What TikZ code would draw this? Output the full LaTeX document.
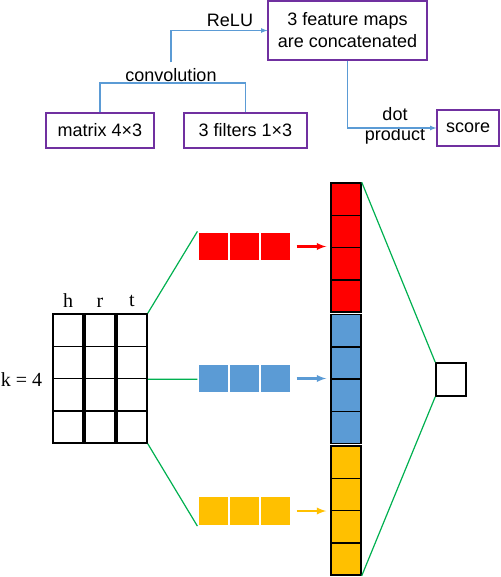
\documentclass[tikz,border=0pt]{standalone}
\usepackage{fontspec}
\setmainfont{Liberation Serif}
\setsansfont{Liberation Sans}
\usepackage{tikz}
\usetikzlibrary{
    positioning,
    calc,
    arrows
}
\definecolor{boxpurple}{HTML}{7030A0}
\definecolor{flowblue}{HTML}{5B9BD5}
\definecolor{mapred}{HTML}{FF0000}
\definecolor{mapblue}{HTML}{5B9BD5}
\definecolor{mapyellow}{HTML}{FFC000}
\definecolor{linkgreen}{HTML}{00B050}
\tikzset{
  stage/.style = {
      draw=boxpurple,
      line width=1.2pt,
      rectangle,
      font=\sffamily\fontsize{18}{22}\selectfont,
      align=center,
      inner sep=0pt
  },
  note/.style = {
      font=\sffamily\fontsize{18}{20}\selectfont,
      align=center,
      inner sep=1pt
  },
  letter/.style = {
      font=\rmfamily\fontsize{20}{20}\selectfont,
      inner sep=1pt
  },
  flow/.style = {
      draw=flowblue,
      line width=1.2pt
  },
  flow arrow/.style = {
    flow,
    -latex
  },
  cell/.style = {
      draw,
      line width=1.5pt,
      rectangle,
      minimum width=30,
      minimum height=32.25,
      inner sep=0pt
  },
  filter/.style = {
      draw=white,
      line width=1.2pt,
      rectangle,
      minimum width=31,
      minimum height=29,
      inner sep=0pt
  },
  map arrow/.style = {
      line width=2.2pt,
      -latex,
      shorten <=5pt,
      shorten >=4pt
  },
  link/.style = {
      draw=linkgreen,
      line width=1.2pt
  }
}
\begin{document}
\begin{tikzpicture}[x=1pt, y=-1pt]
    \useasboundingbox (0,0) rectangle (500,577);
    % Flow chart
    \node[stage, minimum width=159, minimum height=59] (cat) at (347.5,30.5) {3 feature maps\\are concatenated};
    \node[stage, minimum width=108, minimum height=35] (mat) at (100,130.5) {matrix 4×3};
    \node[stage, minimum width=123, minimum height=35] (filt) at (245.5,130.5) {3 filters 1×3};
    \node[stage, minimum width=62, minimum height=36] (score) at (468,128) {score};
    \coordinate (brk) at (171,83);
    \node[note, above=0pt of brk] (conv) {convolution};
    \node[note] (relu) at (230,20) {ReLU};
    \node[note] (dot) at (395,126) {dot\\product};
    \path[flow] (mat.north) |- (brk) -| (filt.north);
    \draw[flow arrow, shorten <=5pt] (conv.north) |- (cat.west);
    \draw[flow arrow] (cat.south) |- (score.west);
    % Matrix
    \foreach \c/\x in {h/68,r/100,t/132} {
        \foreach \i in {1,...,4} {
            \node[cell] (\c\i) at (\x,{297.875+32.25*\i}) {};
        }
        \node[letter, above=5pt of \c1] {\c};
    }
    \node[letter, left=9pt of h2.south west] (k) {k = 4};
    % Filters
    \foreach \f/\clr/\y in {rf/mapred/246.5, bf/mapblue/378.5, yf/mapyellow/511} {
        \foreach \i in {1,2,3} {
            \node[filter, fill=\clr] (\f\i) at ({182.5+31*\i},\y) {};
        }
    }
    % Concatenated maps
    \foreach \f/\clr/\yy in {rc/mapred/183, bc/mapblue/314.5, yc/mapyellow/446} {
        \foreach \i in {1,...,4} {
            \node[cell, fill=\clr] (\f\i) at (346,{\yy-16.125+32.25*\i}) {};
        }
    }
    \node[cell, minimum height=33] (sc) at (451,379.5) {};
    % Edges
    \draw[map arrow, mapred] (rf3.east) -- (rf3.east -| rc2.west);
    \draw[map arrow, mapblue] (bf3.east) -- (bf3.east -| bc2.west);
    \draw[map arrow, mapyellow] (yf3.east) -- (yf3.east -| yc2.west);
    \path[link]
    (t1.north east) -- (rf1.north west)
    (t2.south east) -- (t2.south east -| bf1.west)
    (t4.south east) -- (yf1.south west)
    (rc1.north east) -- (sc.north west)
    (yc4.south east) -- (sc.south west);
\end{tikzpicture}
\end{document}
